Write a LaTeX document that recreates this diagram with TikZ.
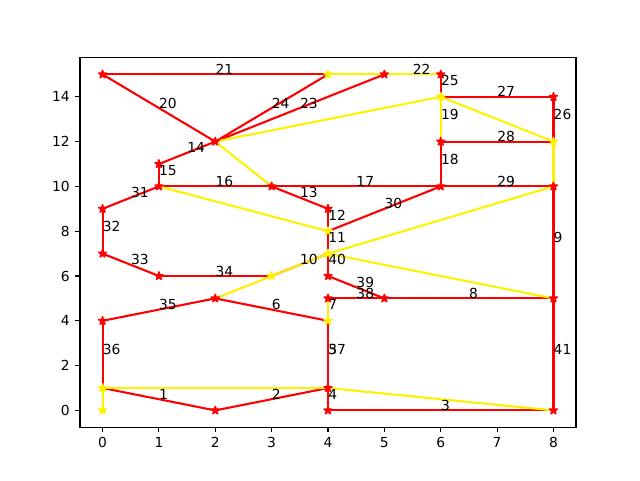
\documentclass[tikz,border=0pt]{standalone}
\usepackage{fontspec}
\setmainfont{DejaVu Sans}
\usetikzlibrary{shapes.geometric}

\begin{document}
\begin{tikzpicture}[
  font=\fontsize{9.84}{11.8}\selectfont,
  edge/.style={red, line width=1.48pt},
  route/.style={yellow, line width=1.48pt},
  redstar/.style={star, star points=5, star point ratio=2.618, minimum size=0.21cm, inner sep=0pt, draw=red, fill=red, line width=0.98pt, line join=round},
  yellowstar/.style={redstar, draw=yellow, fill=yellow},
  lbl/.style={anchor=base west, inner sep=0pt, text=black},
  tick/.style={black, line width=0.79pt}]
% Figure area
\useasboundingbox (0,0) rectangle (16,12);
\begin{scope}[shift={(2.5636,1.74)}, x=1.40909cm, y=0.56cm]
% Points
\foreach \x/\y in {0/15,4/15,5/15,6/15,2/12,6/14,8/14,1/11,6/12,8/12,1/10,3/10,6/10,8/10,0/9,4/9,4/8,0/7,4/7,1/6,3/6,4/6,4/5,5/5,8/5,2/5,0/4,4/4,0/1,4/1,0/0,2/0,4/0,8/0}
  \coordinate (p\x-\y) at (\x,\y);

% Numbered edges
\def\edgelist{0-1/2-0/1, 2-0/4-1/2, 4-0/8-0/3, 4-0/4-1/4, 4-1/4-4/5, 2-5/4-4/6, 4-4/4-5/7, 5-5/8-5/8, 8-5/8-10/9, 3-6/4-7/10, 4-7/4-8/11, 4-8/4-9/12, 3-10/4-9/13, 1-11/2-12/14, 1-10/1-11/15, 1-10/3-10/16, 3-10/6-10/17, 6-10/6-12/18, 6-12/6-14/19, 0-15/2-12/20, 0-15/4-15/21, 5-15/6-15/22, 2-12/5-15/23, 2-12/4-15/24, 6-14/6-15/25, 8-12/8-14/26, 6-14/8-14/27, 6-12/8-12/28, 6-10/8-10/29, 4-8/6-10/30, 0-9/1-10/31, 0-7/0-9/32, 0-7/1-6/33, 1-6/3-6/34, 0-4/2-5/35, 0-1/0-4/36, 4-4/4-1/37, 4-5/5-5/38, 4-6/5-5/39, 4-6/4-7/40, 8-0/8-5/41}
\foreach \a/\b/\n in \edgelist
  \draw[edge] (p\a) -- (p\b);

% Yellow route
\foreach \a/\b in {0-0/0-1, 0-1/4-1, 4-1/8-0, 4-4/4-5, 2-5/3-6, 3-6/4-7, 4-7/8-10, 4-7/8-5, 1-10/4-8, 2-12/3-10, 2-12/6-14, 6-14/6-12, 6-14/8-12, 8-12/8-10, 4-15/6-15}
  \draw[route] (p\a) -- (p\b);

% Markers
\foreach \p in {0-15,5-15,6-15,2-12,8-14,1-11,6-12,1-10,3-10,6-10,8-10,0-9,4-9,0-7,1-6,4-6,4-5,5-5,8-5,2-5,0-4,4-1,2-0,4-0,8-0}
  \node[redstar] (s\p) at (p\p) {};
\foreach \p in {4-15,6-14,8-12,4-8,4-7,3-6,4-4,0-1,0-0}
  \node[yellowstar] (s\p) at (p\p) {};

% Edge numbers
\foreach \a/\b/\n in \edgelist
  \path (p\a) -- node[lbl]{\n} (p\b);

% Axes
\draw[tick] (-0.4,-0.75) rectangle (8.4,15.75);
\foreach \x in {0,...,8}
  \draw[tick] (\x,-0.75) -- ++(0,-0.1215cm) node[anchor=north, inner sep=0pt, yshift=-0.1215cm] (xt\x) {\x};
\foreach \y in {0,2,...,14}
  \draw[tick] (-0.4,\y) -- ++(-0.1215cm,0) node[anchor=east, inner sep=0pt, xshift=-0.1215cm] (yt\y) {\y};
\end{scope}
\end{tikzpicture}
\end{document}
